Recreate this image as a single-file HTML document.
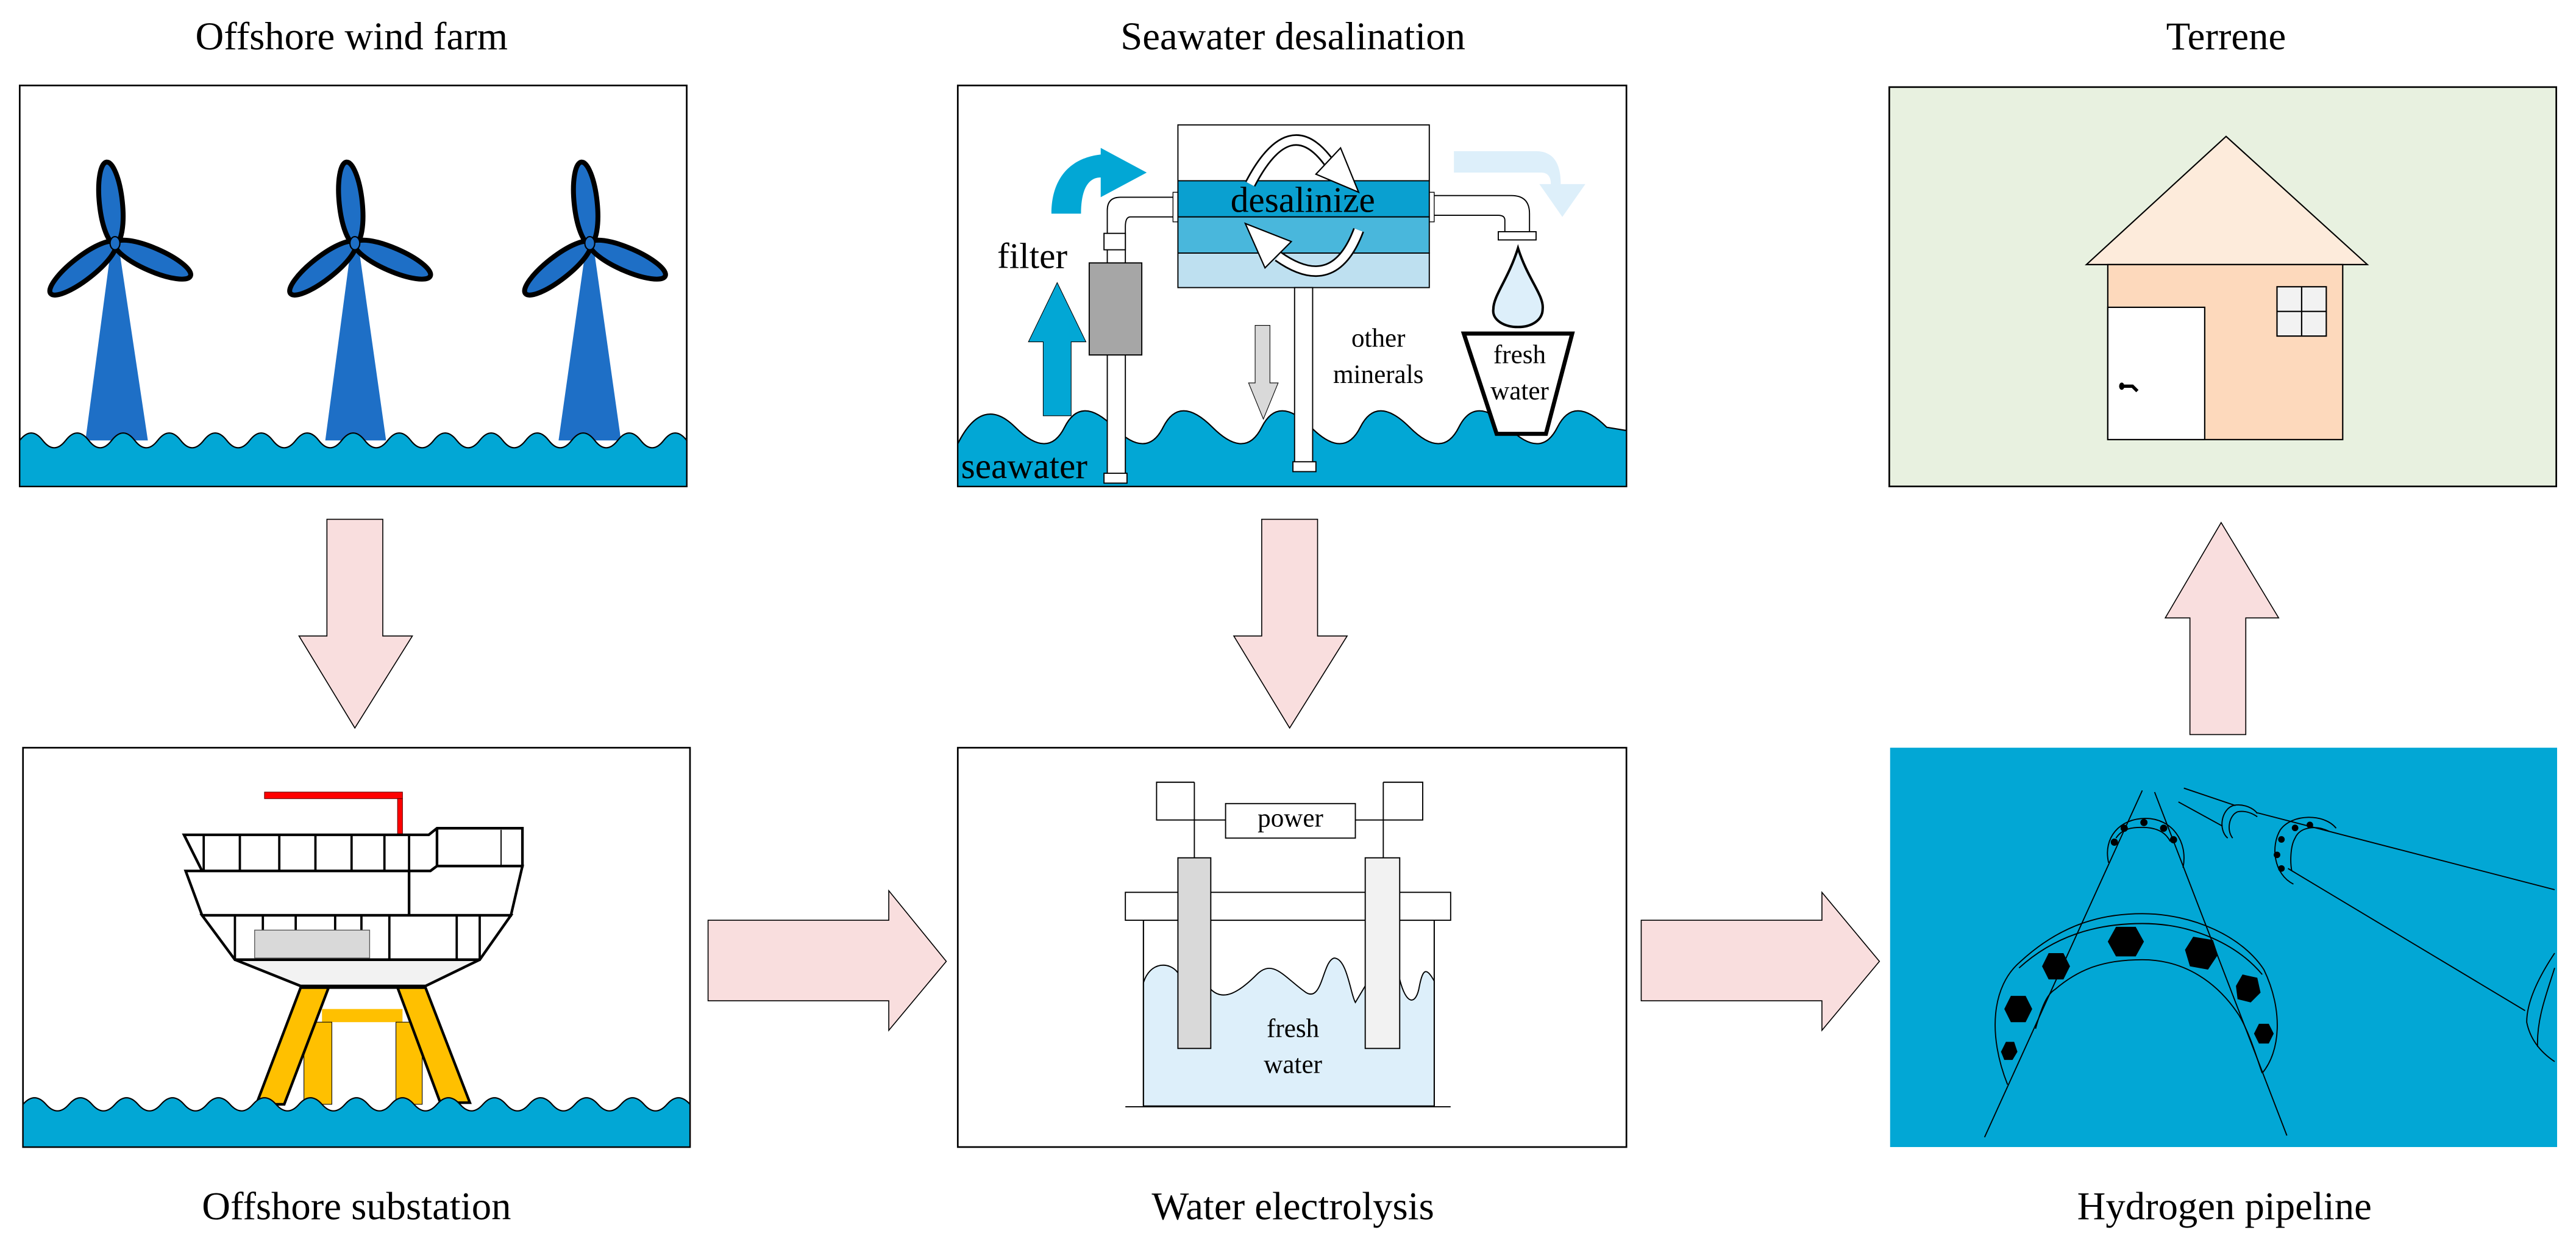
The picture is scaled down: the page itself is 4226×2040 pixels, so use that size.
<!DOCTYPE html>
<html><head><meta charset="utf-8"><style>html,body{margin:0;padding:0;background:#fff}svg{display:block}</style></head><body>
<svg width="4226" height="2040" viewBox="0 0 1568 757" preserveAspectRatio="none" xmlns="http://www.w3.org/2000/svg" font-family="'Liberation Serif', serif">
<rect width="1568" height="757" fill="#fff"/>
<g font-size="24" text-anchor="middle" fill="#000">
<text x="214" y="30">Offshore wind farm</text>
<text x="787" y="30">Seawater desalination</text>
<text x="1355" y="30">Terrene</text>
<text x="217" y="742">Offshore substation</text>
<text x="787" y="742">Water electrolysis</text>
<text x="1354" y="742">Hydrogen pipeline</text>
</g>

<!-- Panel 1 wind farm -->
<rect x="12" y="52" width="406" height="244" fill="#fff" stroke="#000" stroke-width="1"/>
<g fill="#1e6fc6">
<polygon points="68,148 72,148 90,268 52,268"/>
<polygon points="214,148 218,148 235,268 198,268"/>
<polygon points="357,148 361,148 378,268 340,268"/>
</g>
<g fill="#1e6fc6" stroke="#000" stroke-width="3">
<g transform="translate(70,148)"><ellipse cx="-2.5" cy="-24.5" rx="7" ry="25" transform="rotate(-6 -2.5 -24.5)"/><ellipse cx="-19.5" cy="15.2" rx="7" ry="25" transform="rotate(52 -19.5 15.2)"/><ellipse cx="23" cy="10" rx="7" ry="25" transform="rotate(-66.5 23 10)"/></g>
<g transform="translate(216,148)"><ellipse cx="-2.5" cy="-24.5" rx="7" ry="25" transform="rotate(-6 -2.5 -24.5)"/><ellipse cx="-19.5" cy="15.2" rx="7" ry="25" transform="rotate(52 -19.5 15.2)"/><ellipse cx="23" cy="10" rx="7" ry="25" transform="rotate(-66.5 23 10)"/></g>
<g transform="translate(359,148)"><ellipse cx="-2.5" cy="-24.5" rx="7" ry="25" transform="rotate(-6 -2.5 -24.5)"/><ellipse cx="-19.5" cy="15.2" rx="7" ry="25" transform="rotate(52 -19.5 15.2)"/><ellipse cx="23" cy="10" rx="7" ry="25" transform="rotate(-66.5 23 10)"/></g>
</g>
<g fill="#1e6fc6" stroke="#000" stroke-width="0.8"><ellipse cx="70" cy="148" rx="3" ry="4"/><ellipse cx="216" cy="148" rx="3" ry="4"/><ellipse cx="359" cy="148" rx="3" ry="4"/></g>
<path d="M12,268 q7,-9 14,0 t14,0 t14,0 t14,0 t14,0 t14,0 t14,0 t14,0 t14,0 t14,0 t14,0 t14,0 t14,0 t14,0 t14,0 t14,0 t14,0 t14,0 t14,0 t14,0 t14,0 t14,0 t14,0 t14,0 t14,0 t14,0 t14,0 t14,0 t14,0 L418,296 L12,296 Z" fill="#02a7d5" stroke="#000" stroke-width="0.8"/>

<!-- Panel 2 desalination -->
<rect x="583" y="52" width="407" height="244" fill="#fff" stroke="#000" stroke-width="1"/>
<path d="M583,270 q15,-30 35,-10 t30,0 t30,0 t30,0 t30,0 t30,0 t30,0 t30,0 t30,0 t30,0 t30,0 t30,0 t30,0 L990,262 L990,296 L583,296 Z" fill="#02a7d5" stroke="#000" stroke-width="0.8"/>
<polygon points="635,253 652,253 652,208 661,208 643.5,172 626,208 635,208" fill="#02a7d5" stroke="#000" stroke-width="0.4"/>
<path d="M640,130 C640,108 652,96 670,94 L670,90 L698,105 L670,120 L670,108 C662,108 658,116 658,130 Z" fill="#02a7d5"/>
<path d="M674,292 L674,128 Q674,120 682,120 L716,120 L716,132 L688,132 Q685,132 685,138 L685,292 Z" fill="#fff" stroke="#000" stroke-width="0.7"/>
<rect x="672" y="142" width="13" height="10" fill="#fff" stroke="#000" stroke-width="0.7"/>
<rect x="663" y="160" width="32" height="56" fill="#a6a6a6" stroke="#000" stroke-width="0.7"/>
<rect x="672" y="288" width="14" height="6" fill="#fff" stroke="#000" stroke-width="0.7"/>
<rect x="714" y="117" width="4" height="18" fill="#fff" stroke="#000" stroke-width="0.5"/>
<path d="M872,119 L920,119 Q931,119 931,130 L931,142 L916,142 L916,134 Q916,131 912,131 L872,131 Z" fill="#fff" stroke="#000" stroke-width="0.7"/>
<rect x="912" y="141" width="23" height="5" fill="#fff" stroke="#000" stroke-width="0.7"/>
<rect x="869" y="117" width="4" height="18" fill="#fff" stroke="#000" stroke-width="0.5"/>
<rect x="717" y="76" width="153" height="34" fill="#fff" stroke="#000" stroke-width="0.7"/>
<rect x="717" y="110" width="153" height="22" fill="#0aa0d0" stroke="#000" stroke-width="0.7"/>
<rect x="717" y="132" width="153" height="22" fill="#49b7dc" stroke="#000" stroke-width="0.7"/>
<rect x="717" y="154" width="153" height="21" fill="#bee0f0" stroke="#000" stroke-width="0.7"/>
<path d="M761,112 Q785,66 809,99" fill="none" stroke="#000" stroke-width="7"/>
<path d="M761,112 Q785,66 809,99" fill="none" stroke="#fff" stroke-width="5"/>
<polygon points="801,106 816,90 827,117" fill="#fff" stroke="#000" stroke-width="0.8"/>
<path d="M827,140 Q812,180 778,156" fill="none" stroke="#000" stroke-width="7"/>
<path d="M827,140 Q812,180 778,156" fill="none" stroke="#fff" stroke-width="5"/>
<polygon points="758,136 770,163 786,147" fill="#fff" stroke="#000" stroke-width="0.8"/>
<text x="793" y="129" font-size="22" text-anchor="middle">desalinize</text>
<rect x="788" y="175" width="11" height="110" fill="#fff" stroke="#000" stroke-width="0.7"/>
<rect x="787" y="281" width="14" height="6" fill="#fff" stroke="#000" stroke-width="0.7"/>
<polygon points="764,198 773,198 773,233 778,233 769,255 760,233 764,233" fill="#d9d9d9" stroke="#000" stroke-width="0.4"/>
<path d="M885,92 L935,92 Q950,92 950,112 L965,112 L951,132 L937,112 L944,112 Q944,105 938,105 L885,105 Z" fill="#ddeffa"/>
<path d="M924,151 C930,170 940,180 939,188 C939,195 932,199 924,199 C916,199 908,195 909,188 C909,180 918,170 924,151 Z" fill="#ddeffa" stroke="#000" stroke-width="1.5"/>
<polygon points="891,203 957,203 941,264 911,264" fill="#fff" stroke="#000" stroke-width="2.5"/>
<g font-size="16" text-anchor="middle">
<text x="925" y="221">fresh</text><text x="925" y="243">water</text>
<text x="839" y="211">other</text><text x="839" y="233">minerals</text>
</g>
<text x="607" y="163" font-size="22">filter</text>
<text x="585" y="291" font-size="22">seawater</text>

<!-- Panel 3 terrene -->
<rect x="1150" y="53" width="406" height="243" fill="#e8f1e0" stroke="#000" stroke-width="1"/>
<polygon points="1355,83 1441,161 1270,161" fill="#fdebdb" stroke="#000" stroke-width="0.8"/>
<rect x="1283" y="161" width="143" height="106.5" fill="#fdd9bc" stroke="#000" stroke-width="0.8"/>
<rect x="1283" y="187" width="59" height="80.5" fill="#fff" stroke="#000" stroke-width="0.8"/>
<path d="M1292,235 L1298,235 L1301,238" stroke="#000" stroke-width="2" fill="none"/><ellipse cx="1291.5" cy="235" rx="1.6" ry="2.2" fill="#000"/>
<rect x="1386" y="174.5" width="30" height="30" fill="#f2f2f2" stroke="#000" stroke-width="0.8"/>
<line x1="1401" y1="174.5" x2="1401" y2="204.5" stroke="#000" stroke-width="0.8"/><line x1="1386" y1="189.5" x2="1416" y2="189.5" stroke="#000" stroke-width="0.8"/>

<!-- Panel 4 substation -->
<rect x="14" y="455" width="406" height="243" fill="#fff" stroke="#000" stroke-width="1"/>
<rect x="161" y="482" width="84" height="4" fill="#f00" stroke="#600" stroke-width="0.4"/>
<rect x="242" y="486" width="3" height="22" fill="#f00" stroke="#600" stroke-width="0.4"/>
<g stroke="#000" stroke-width="1.6" fill="#fff">
<path d="M112,508 L261,508 L266,504 L318,504 L318,527 L266,527 L262,530 L123,530 Z"/>
<line x1="266" y1="504" x2="266" y2="527"/>
<line x1="305" y1="505" x2="305" y2="527" stroke-width="0.7"/>
<path d="M113,530 L262,530 L266,527 L318,527 L311,557 L123,557 Z"/>
<line x1="249" y1="530" x2="249" y2="557"/>
<path d="M123,557 L311,557 L292,584 L143,584 Z"/>
<path d="M143,584 L292,584 L259,600 L183,600 Z" fill="#f2f2f2"/>
</g>
<g stroke="#000" stroke-width="1.4">
<line x1="124" y1="508" x2="124" y2="530"/><line x1="146" y1="508" x2="146" y2="530"/><line x1="170" y1="508" x2="170" y2="530"/><line x1="192" y1="508" x2="192" y2="530"/><line x1="214" y1="508" x2="214" y2="530"/><line x1="234" y1="508" x2="234" y2="530"/><line x1="249" y1="508" x2="249" y2="530"/>
<line x1="143" y1="557" x2="143" y2="584"/><line x1="237" y1="557" x2="237" y2="584"/><line x1="278" y1="557" x2="278" y2="584"/><line x1="292" y1="557" x2="292" y2="584"/>
<line x1="160" y1="557" x2="160" y2="567"/><line x1="180" y1="557" x2="180" y2="567"/><line x1="204" y1="557" x2="204" y2="567"/><line x1="220" y1="557" x2="220" y2="567"/>
</g>
<rect x="155" y="566" width="70" height="17" fill="#d9d9d9" stroke="#555" stroke-width="0.5"/>
<line x1="183" y1="600.5" x2="259" y2="600.5" stroke="#000" stroke-width="2.5"/>
<rect x="196" y="614" width="49" height="8" fill="#ffc000"/>
<rect x="185" y="622" width="17" height="50" fill="#ffc000" stroke="#000" stroke-width="0.4"/>
<rect x="241" y="622" width="16" height="50" fill="#ffc000" stroke="#000" stroke-width="0.4"/>
<polygon points="183,601 200,601 173,672 156,672" fill="#ffc000" stroke="#000" stroke-width="1.6"/>
<polygon points="242,601 259,601 286,671 268,671" fill="#ffc000" stroke="#000" stroke-width="1.6"/>
<path d="M14,672 q7,-8 14,0 t14,0 t14,0 t14,0 t14,0 t14,0 t14,0 t14,0 t14,0 t14,0 t14,0 t14,0 t14,0 t14,0 t14,0 t14,0 t14,0 t14,0 t14,0 t14,0 t14,0 t14,0 t14,0 t14,0 t14,0 t14,0 t14,0 t14,0 t14,0 L420,698 L14,698 Z" fill="#02a7d5" stroke="#000" stroke-width="0.8"/>

<!-- Panel 5 electrolysis -->
<rect x="583" y="455" width="407" height="243" fill="#fff" stroke="#000" stroke-width="1"/>
<g stroke="#000" stroke-width="0.7" fill="none">
<polyline points="727,476 704,476 704,499 746,499"/>
<polyline points="842,476 866,476 866,499 825,499"/>
<line x1="727" y1="476" x2="727" y2="522"/><line x1="842" y1="476" x2="842" y2="522"/>
</g>
<rect x="746" y="489" width="79" height="21" fill="#fff" stroke="#000" stroke-width="0.7"/>
<text x="785.5" y="503" font-size="16" text-anchor="middle">power</text>
<rect x="696" y="560" width="177" height="113" fill="#fff" stroke="#000" stroke-width="0.7"/>
<path d="M696,598 C700,585 712,585 717,592 L737,602 C745,610 755,603 765,593 C775,583 782,595 795,604 C805,610 805,585 812,583 C820,583 822,605 825,610 L831,600 L852,596 C856,612 862,612 864,600 C866,590 868,588 873,597 L873,673 L696,673 Z" fill="#ddeffa" stroke="#000" stroke-width="0.7"/>
<line x1="696" y1="560" x2="696" y2="673" stroke="#000" stroke-width="0.7"/><line x1="873" y1="560" x2="873" y2="673" stroke="#000" stroke-width="0.7"/>
<rect x="685" y="543" width="198" height="17" fill="#fff" stroke="#000" stroke-width="0.7"/>
<rect x="717" y="522" width="20" height="116" fill="#d9d9d9" stroke="#000" stroke-width="0.7"/>
<rect x="831" y="522" width="21" height="116" fill="#f2f2f2" stroke="#000" stroke-width="0.7"/>
<line x1="685" y1="673.5" x2="883" y2="673.5" stroke="#000" stroke-width="0.7"/>
<text x="787" y="631" font-size="16" text-anchor="middle">fresh</text>
<text x="787" y="653" font-size="16" text-anchor="middle">water</text>

<!-- Panel 6 pipeline -->
<rect x="1150.5" y="455" width="406" height="243" fill="#02a7d5"/>
<g stroke="#000" stroke-width="0.7" fill="none">
<line x1="1208" y1="692" x2="1304" y2="481"/>
<line x1="1392" y1="691" x2="1311.5" y2="482"/>
<path d="M1222,660 C1210,630 1212,600 1230,585 C1255,562 1280,556 1304,556 C1335,556 1365,570 1378,590 C1390,615 1388,640 1377,653"/>
<path d="M1229,589 C1250,570 1275,562 1304,562 C1335,562 1362,575 1377,593"/>
<path d="M1239,626 C1243,612 1246,605 1251,602 C1265,590 1280,584 1304,584 C1330,584 1350,598 1363,618 C1370,630 1374,645 1377,653"/>
<path d="M1283.5,525 C1280,510 1290,498 1306,498 C1322,498 1332,512 1328.8,528"/>
<path d="M1288,510 C1292,504 1298,503.5 1304,503.5 C1312,503.5 1318,506 1321,512"/>
<polyline points="1329.3,479.6 1360.7,490.2"/>
<polyline points="1374,494.6 1555,541.4"/>
<polyline points="1326,488 1352.8,502.7"/>
<polyline points="1392.7,528.5 1537,615"/>
<path d="M1356,510 C1350,505 1352,492 1360,490 C1366,489 1372,492 1374,495"/>
<path d="M1359,510 C1355,505 1357,496 1362,494 C1367,493 1371,495 1374,497"/>
<path d="M1422,504 C1415,495 1395,495 1388,505 C1382,515 1384,532 1396,538"/>
<path d="M1418,506 C1410,502 1400,503 1397,510 C1394,515 1394,525 1395,530"/>
<path d="M1555,580 C1545,595 1538,610 1538,622 C1540,632 1546,640 1555,646"/>
<path d="M1555,589 C1550,605 1544,620 1544.6,637"/>
</g>
<g fill="#000">
<polygon points="1288,564 1300,564 1305,573 1300,582 1288,582 1283,573"/>
<polygon points="1335,570 1347,572 1350,581 1344,590 1333,588 1330,578"/>
<polygon points="1247,580 1256,580 1260,588 1256,596 1247,596 1243,588"/>
<polygon points="1365,593 1374,595 1376,604 1370,610 1362,608 1361,600"/>
<polygon points="1224,606 1233,606 1237,614 1233,622 1224,622 1220,614"/>
<polygon points="1375,623 1381,623 1384,629 1381,635 1375,635 1372,629"/>
<polygon points="1221,634 1226,634 1228,640 1225,645 1220,645 1218,640"/>
<circle cx="1293" cy="504" r="2.2"/><circle cx="1305" cy="500.5" r="2.2"/><circle cx="1317" cy="504" r="2.2"/><circle cx="1287" cy="512.5" r="2.2"/><circle cx="1323" cy="511" r="2.2"/>
<circle cx="1397" cy="503.8" r="2"/><circle cx="1406" cy="502" r="2"/><circle cx="1388.7" cy="510.8" r="2"/><circle cx="1386" cy="520.2" r="2"/><circle cx="1388.7" cy="528.5" r="2"/>
</g>

<!-- arrows -->
<g fill="#f9dede" stroke="#000" stroke-width="0.6">
<polygon points="199,316 233,316 233,387 251,387 216,443 182,387 199,387"/>
<polygon points="768,316 802,316 802,387 820,387 785,443 751,387 768,387"/>
<polygon points="1333,447 1367,447 1367,376 1387,376 1352,318 1318,376 1333,376"/>
<polygon points="431,560 541,560 541,542 576,585 541,627 541,609 431,609"/>
<polygon points="999,560 1109,560 1109,543 1144,585 1109,627 1109,609 999,609"/>
</g>
</svg>
</body></html>
